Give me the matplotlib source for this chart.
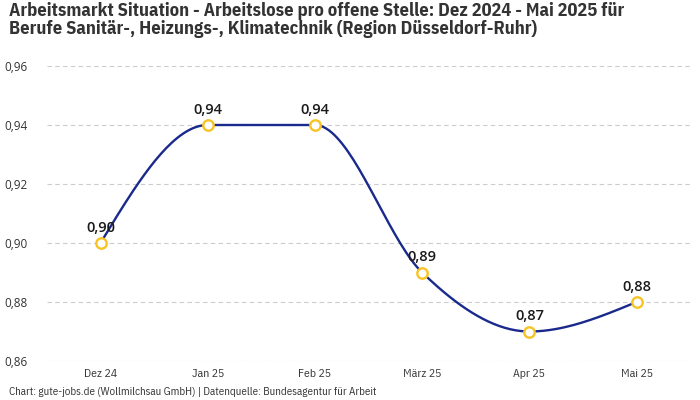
import numpy as np
import matplotlib.pyplot as plt

months = ["Dez 24", "Jan 25", "Feb 25", "März 25", "Apr 25", "Mai 25"]
values = [0.90, 0.94, 0.94, 0.89, 0.87, 0.88]
yticks = [0.86, 0.88, 0.90, 0.92, 0.94, 0.96]

title = ("Arbeitsmarkt Situation - Arbeitslose pro offene Stelle: Dez 2024 - Mai 2025 für\n"
         "Berufe Sanitär-, Heizungs-, Klimatechnik (Region Düsseldorf-Ruhr)")
source = "Chart: gute-jobs.de (Wollmilchsau GmbH) | Datenquelle: Bundesagentur für Arbeit"

cond = ["IBM Plex Sans Condensed", "DejaVu Sans"]
sans = ["Open Sans", "DejaVu Sans"]


def monotone(x, y, n=40):
    # monotone cubic (like d3 curveMonotoneX)
    x = np.asarray(x, float)
    y = np.asarray(y, float)
    h = np.diff(x)
    s = np.diff(y) / h
    t = np.zeros(len(x))
    for i in range(1, len(x) - 1):
        if s[i - 1] * s[i] <= 0:
            t[i] = 0
        else:
            p = (s[i - 1] * h[i] + s[i] * h[i - 1]) / (h[i - 1] + h[i])
            t[i] = (np.sign(s[i - 1]) + np.sign(s[i])) * min(abs(s[i - 1]), abs(s[i]), 0.5 * abs(p))
    t[0] = (3 * s[0] - t[1]) / 2
    t[-1] = (3 * s[-1] - t[-2]) / 2
    xs, ys = [], []
    for i in range(len(x) - 1):
        u = np.linspace(0, 1, n)
        h00 = 2 * u**3 - 3 * u**2 + 1
        h10 = u**3 - 2 * u**2 + u
        h01 = -2 * u**3 + 3 * u**2
        h11 = u**3 - u**2
        xs.extend(x[i] + u * h[i])
        ys.extend(h00 * y[i] + h10 * h[i] * t[i] + h01 * y[i + 1] + h11 * h[i] * t[i + 1])
    return np.array(xs), np.array(ys)


fig = plt.figure(figsize=(7, 4), dpi=100)
ax = fig.add_axes([0.067, 0.0975, 0.919, 0.7375])

xpos = np.arange(len(months))
cx, cy = monotone(xpos, values)
ax.plot(cx, cy, color="#1a2a8c", lw=1.7, zorder=2)
ax.plot(xpos, values, "o", ms=7.5, mfc="white", mec="#f7c325", mew=1.7, zorder=3)

for xi, v in zip(xpos, values):
    ax.annotate(f"{v:.2f}".replace(".", ","), (xi, v), xytext=(0, 6), textcoords="offset points",
                ha="center", va="bottom", fontsize=10.5, fontweight="semibold", color="#1a1a1a", family=sans)

ax.set_xlim(-0.5, 5.5)
ax.set_ylim(0.86, 0.96)
ax.set_xticks(xpos)
ax.set_xticklabels(months, family=cond, fontsize=8.5, color="#333333")
ax.set_yticks(yticks)
ax.set_yticklabels([f"{t:.2f}".replace(".", ",") for t in yticks], family=sans,
                   fontsize=8.5, color="#333333")
ax.tick_params(axis="x", length=0, pad=6)
ax.tick_params(axis="y", length=0, pad=14)
ax.grid(axis="y", color="#cccccc", ls=(0, (4, 3)), lw=0.8)
ax.set_axisbelow(True)
for sp in ax.spines.values():
    sp.set_visible(False)

fig.text(0.013, 0.995, title, ha="left", va="top", fontsize=13.3, fontweight="bold",
         color="#333333", family=cond, linespacing=1.0)
fig.text(0.013, 0.007, source, ha="left", va="bottom", fontsize=7.9, color="#333333", family=cond)

fig.savefig("out.png")
